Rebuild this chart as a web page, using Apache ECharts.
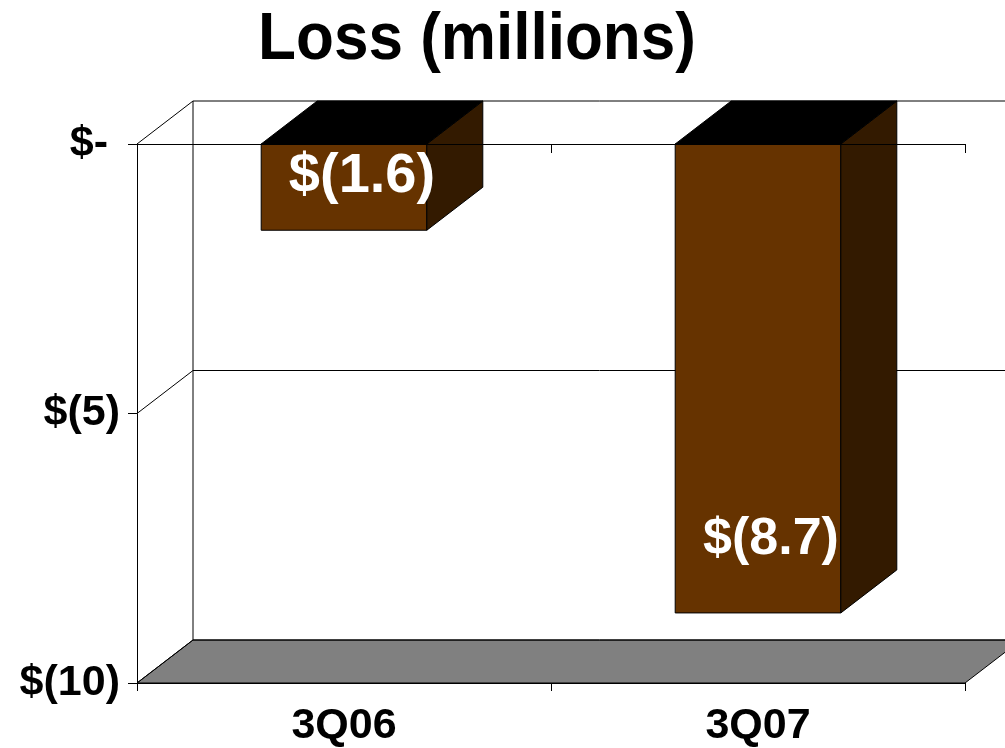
<!DOCTYPE html>
<html>
<head>
<meta charset="utf-8">
<title>Loss (millions)</title>
<script src="https://cdn.jsdelivr.net/npm/echarts@6/dist/echarts.min.js"></script>
<style>
  html, body { margin: 0; padding: 0; background: #fff; }
  #chart { width: 1005px; height: 748px; }
</style>
</head>
<body>
<div id="chart"></div>
<script>
// Quarterly net loss, in millions of dollars
const categories = ['3Q06', '3Q07'];
const lossValues = [-1.6, -8.7];
const valueTicks = [0, -5, -10];
const valueTickLabels = ['$- ', '$(5)', '$(10)'];

const FONT = '"Liberation Sans", Arial, Helvetica, sans-serif';
// pseudo-3D depth of the plot box, in pixels
const DEPTH_X = 56;
const DEPTH_Y = 43;
const FRONT = '#663300';
const SIDE = '#331a00';
const TOP = '#000000';
// value label styling per block (the deeper block gets a slightly smaller label)
const LABEL_FONT_SIZES = [56, 52];
const LABEL_SHIFT_X = [18, 13];

function money(v) {
  return '$(' + Math.abs(v).toFixed(1) + ')';
}

// Walls and floor of the 3D box, placed from the grid and the value axis
function renderWalls(params, api) {
  const cs = params.coordSys;
  const x0 = cs.x, x1 = cs.x + cs.width;
  const yTop = api.coord([0, valueTicks[0]])[1];
  const yBot = api.coord([0, valueTicks[valueTicks.length - 1]])[1];
  const line = { stroke: '#000', lineWidth: 1 };
  const children = [];
  children.push({
    type: 'polygon',
    shape: { points: [[x0, yBot], [x0 + DEPTH_X, yBot - DEPTH_Y], [x1 + DEPTH_X, yBot - DEPTH_Y], [x1, yBot]] },
    style: { fill: '#808080', stroke: '#000', lineWidth: 1 }
  });
  valueTicks.forEach(function (v) {
    const y = api.coord([0, v])[1];
    children.push({ type: 'line', shape: { x1: x0, y1: y, x2: x0 + DEPTH_X, y2: y - DEPTH_Y }, style: line });
    children.push({ type: 'line', shape: { x1: x0 + DEPTH_X, y1: y - DEPTH_Y, x2: x1 + DEPTH_X, y2: y - DEPTH_Y }, style: line });
  });
  children.push({ type: 'line', shape: { x1: x0 + DEPTH_X, y1: yTop - DEPTH_Y, x2: x0 + DEPTH_X, y2: yBot - DEPTH_Y }, style: line });
  return { type: 'group', children: children };
}

// One 3D block per quarter, hanging down from zero
function renderBar(params, api) {
  const idx = api.value(0);
  const val = api.value(1);
  const p0 = api.coord([idx, 0]);
  const p1 = api.coord([idx, val]);
  const w = api.size([1, 0])[0] * 0.4;
  const L = p0[0] - w / 2, R = p0[0] + w / 2;
  const y0 = p0[1], y1 = p1[1];
  const edge = { stroke: '#000', lineWidth: 1 };
  const labelY = Math.max(y1 - 73, y0 + 33);
  return {
    type: 'group',
    children: [
      {
        type: 'rect',
        shape: { x: L, y: y0, width: w, height: y1 - y0 },
        style: Object.assign({ fill: FRONT }, edge)
      },
      {
        type: 'polygon',
        shape: { points: [[R, y0], [R + DEPTH_X, y0 - DEPTH_Y], [R + DEPTH_X, y1 - DEPTH_Y], [R, y1]] },
        style: Object.assign({ fill: SIDE }, edge)
      },
      {
        type: 'polygon',
        shape: { points: [[L, y0], [R, y0], [R + DEPTH_X, y0 - DEPTH_Y], [L + DEPTH_X, y0 - DEPTH_Y]] },
        style: Object.assign({ fill: TOP }, edge)
      },
      {
        type: 'text',
        style: {
          text: money(val),
          x: p0[0] + LABEL_SHIFT_X[idx], y: labelY,
          fill: '#ffffff',
          font: 'bold ' + LABEL_FONT_SIZES[idx] + 'px ' + FONT,
          textAlign: 'center', textVerticalAlign: 'middle',
          align: 'center', verticalAlign: 'middle'
        }
      }
    ]
  };
}

const chart = echarts.init(document.getElementById('chart'), null, { renderer: 'canvas' });

chart.setOption({
  animation: false,
  backgroundColor: '#ffffff',
  graphic: [{
    type: 'text',
    x: 477, y: 41,
    scaleX: 0.94,
    z: 10,
    style: {
      text: 'Loss (millions)',
      x: 0, y: 0,
      fill: '#000',
      font: 'bold 66px ' + FONT,
      textAlign: 'center', textVerticalAlign: 'middle',
      align: 'center', verticalAlign: 'middle'
    }
  }],
  grid: { left: 137, right: 40, top: 144, bottom: 64, containLabel: false },
  xAxis: [
    {
      type: 'category',
      data: categories,
      position: 'bottom',
      axisLine: { onZero: false, lineStyle: { color: '#000', width: 1 } },
      axisTick: { show: true, length: 8, lineStyle: { color: '#000' } },
      axisLabel: { color: '#000', fontFamily: FONT, fontWeight: 'bold', fontSize: 43, margin: 22 },
      splitLine: { show: false }
    },
    {
      type: 'category',
      data: categories,
      position: 'top',
      z: 10,
      axisLine: { onZero: false, lineStyle: { color: '#000', width: 1 } },
      axisTick: { show: true, inside: true, length: 9, lineStyle: { color: '#000' } },
      axisLabel: { show: false },
      splitLine: { show: false }
    }
  ],
  yAxis: {
    type: 'value',
    min: -10,
    max: 0,
    interval: 5,
    axisLine: { show: true, lineStyle: { color: '#000', width: 1 } },
    axisTick: { show: true, length: 9, lineStyle: { color: '#000' } },
    axisLabel: {
      color: '#000', fontFamily: FONT, fontWeight: 'bold', fontSize: 43, margin: 17,
      formatter: function (v) {
        const i = valueTicks.indexOf(v);
        return i >= 0 ? valueTickLabels[i] : '';
      }
    },
    splitLine: { show: false }
  },
  series: [
    {
      type: 'custom',
      name: 'walls',
      xAxisIndex: 0,
      renderItem: renderWalls,
      data: [[0, 0]],
      silent: true,
      z: 1
    },
    {
      type: 'custom',
      name: 'Loss',
      xAxisIndex: 0,
      renderItem: renderBar,
      data: lossValues.map(function (v, i) { return [i, v]; }),
      z: 2
    }
  ]
});
</script>
</body>
</html>
